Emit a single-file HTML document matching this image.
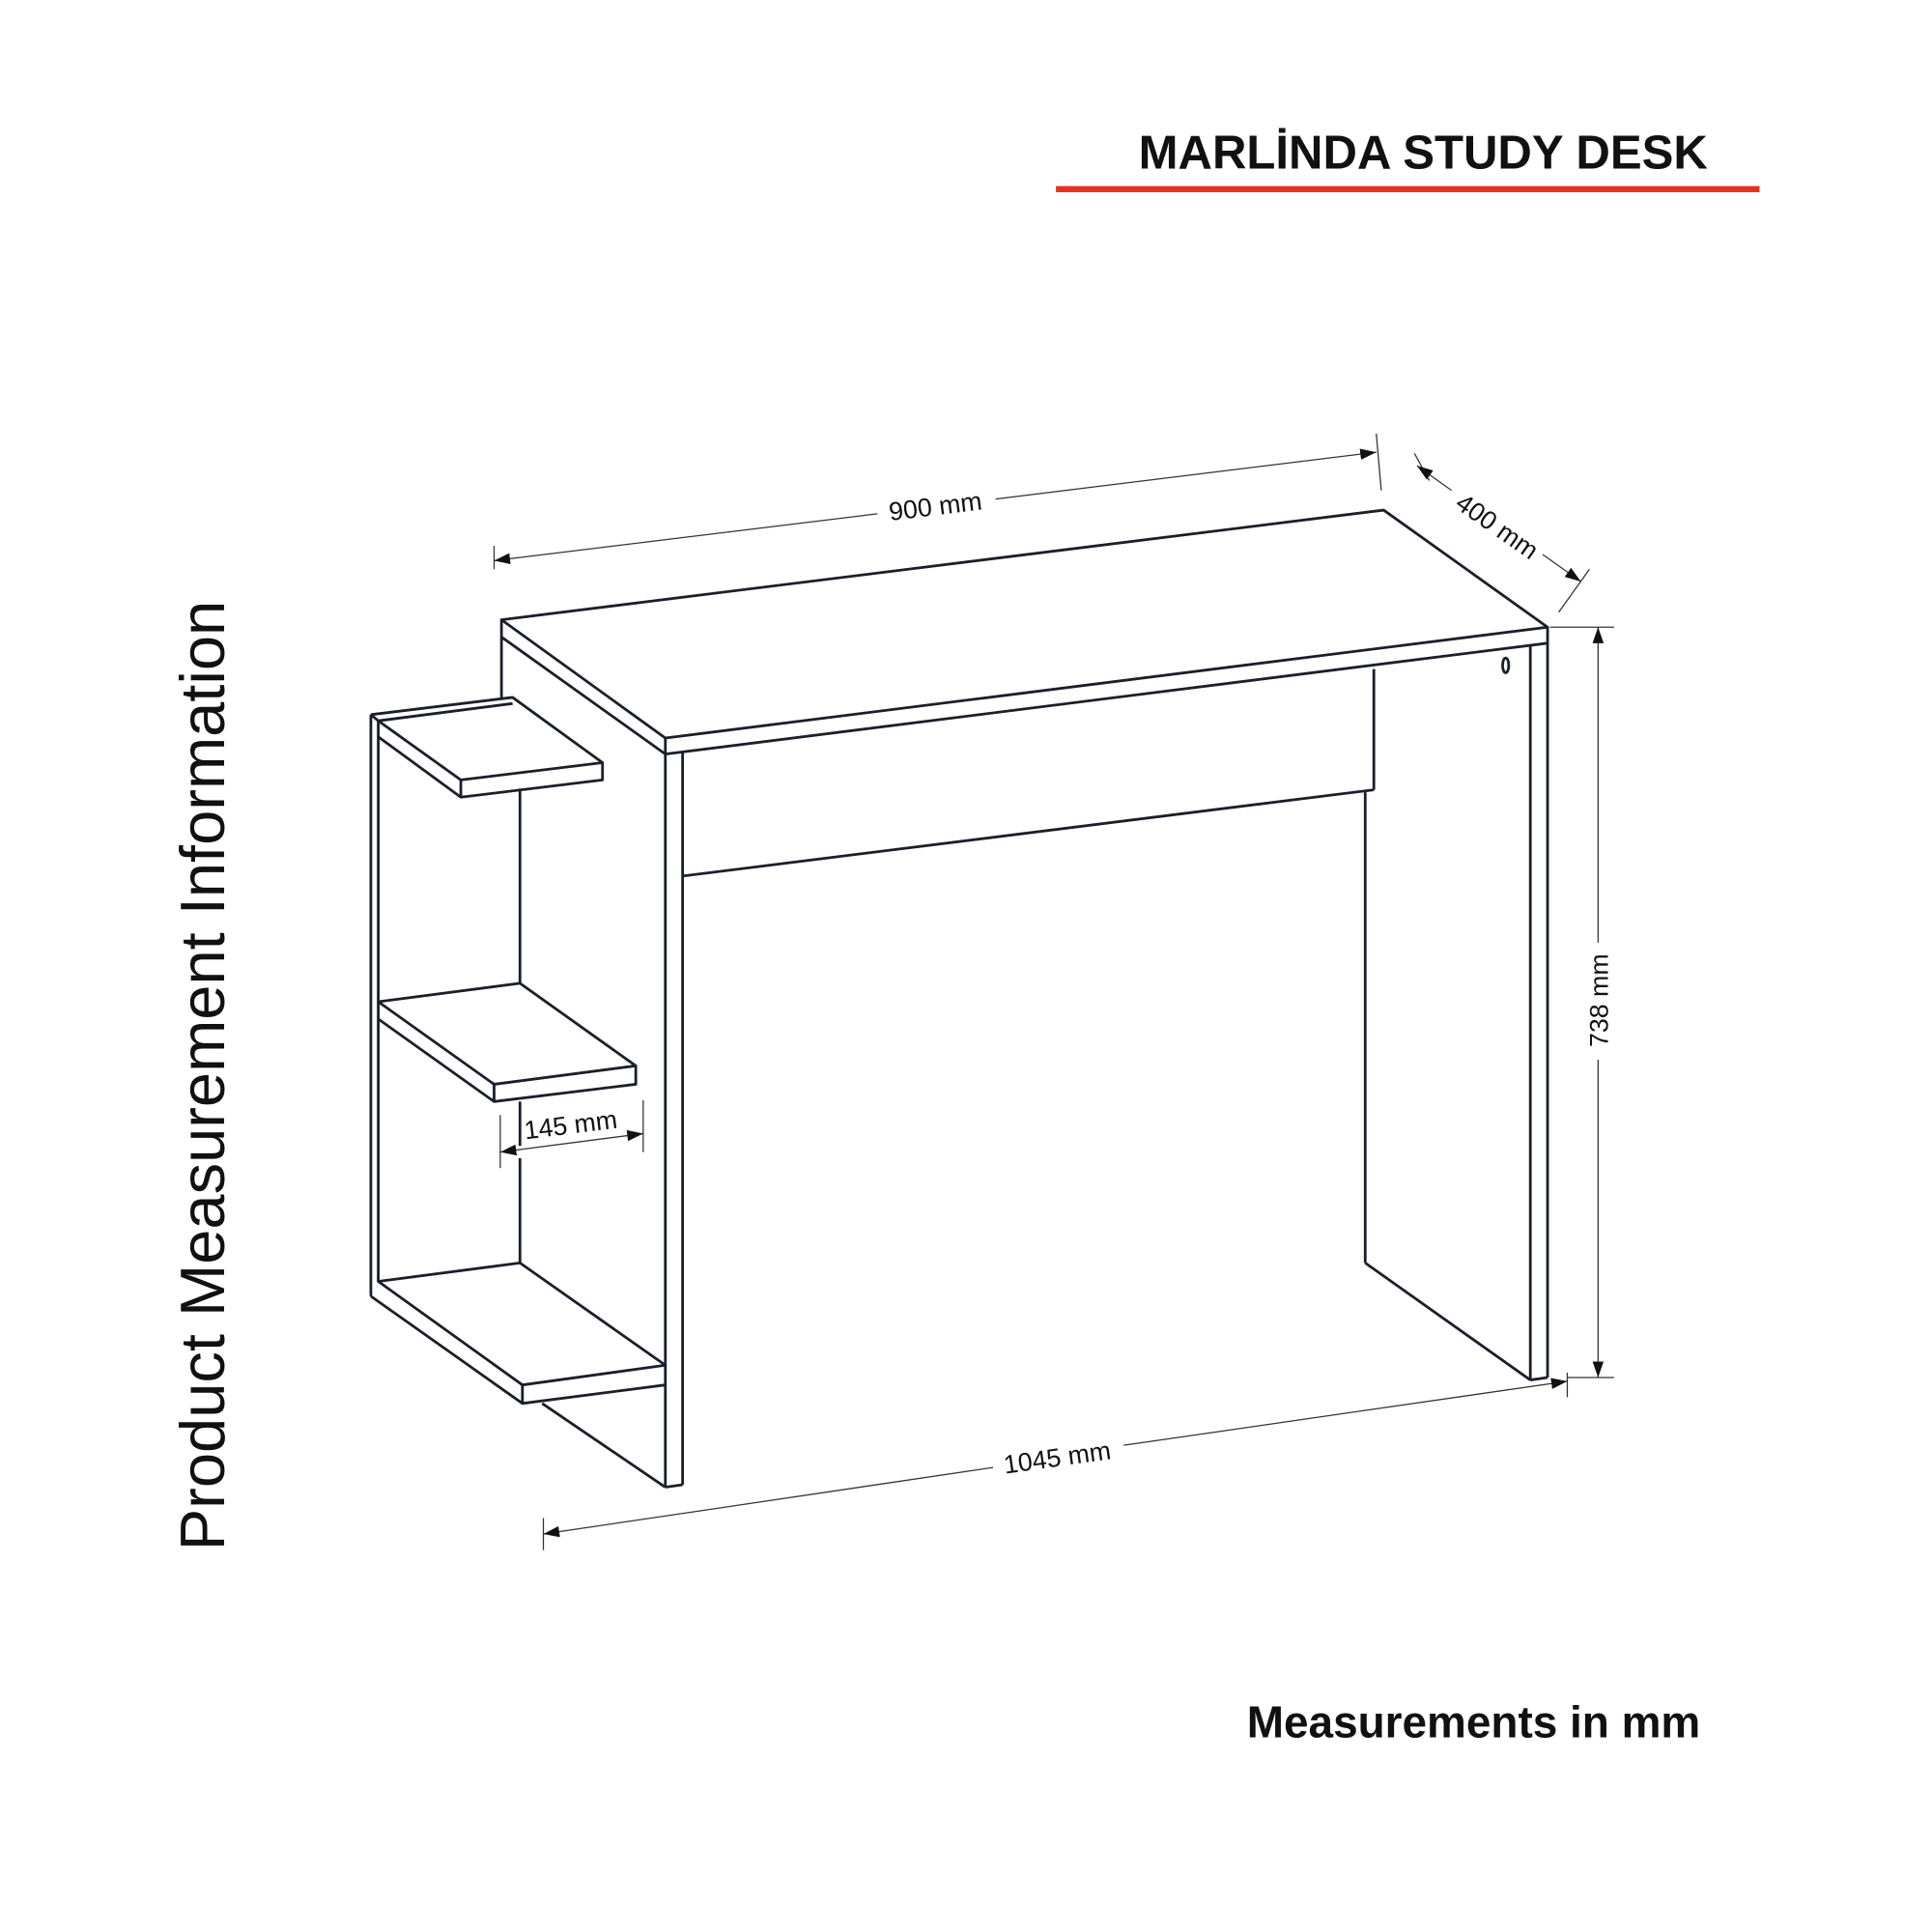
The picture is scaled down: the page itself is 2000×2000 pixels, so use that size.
<!DOCTYPE html>
<html><head><meta charset="utf-8"><style>
html,body{margin:0;padding:0;background:#fff}
svg{display:block}
</style></head><body>
<svg width="2000" height="2000" viewBox="0 0 1568 1568" xmlns="http://www.w3.org/2000/svg">
<defs>
<marker id="ar" viewBox="0 0 10 10" refX="10" refY="5" markerWidth="13" markerHeight="9" markerUnits="userSpaceOnUse" orient="auto-start-reverse" preserveAspectRatio="none">
<path d="M0,0 L10,5 L0,10 z" fill="#111"/>
</marker>
</defs>
<rect width="1568" height="1568" fill="#fff"/>
<text x="1155" y="137" text-anchor="middle" font-family="'Liberation Sans',sans-serif" font-weight="bold" font-size="38.5" fill="#111">MARLİNDA STUDY DESK</text>
<rect x="857" y="151" width="571" height="5" fill="#e8321e"/>
<text transform="translate(182,873) rotate(-90)" text-anchor="middle" font-family="'Liberation Sans',sans-serif" font-size="51" fill="#111">Product Measurement Information</text>
<text x="1380" y="1410" text-anchor="end" font-family="'Liberation Sans',sans-serif" font-weight="bold" font-size="36" fill="#111">Measurements in mm</text>

<g fill="none" stroke="#1a1f2a" stroke-width="2.2" stroke-linejoin="round">
<polygon points="407,503 1123,414 1256,509 540,599"/>
<polyline points="540,599 540,612 1256,522 1256,509"/>
<polyline points="407,503 407,517 540,612"/>
<line x1="407" y1="517" x2="407" y2="567"/>
<line x1="540" y1="612" x2="540" y2="1207"/>
<line x1="554" y1="610" x2="554" y2="1205"/>
<line x1="540" y1="1207" x2="554" y2="1205"/>
<line x1="440" y1="1139" x2="540" y2="1207"/>
<line x1="554" y1="711" x2="1115" y2="641"/>
<line x1="1115" y1="543" x2="1115" y2="641"/>
<line x1="1108" y1="643" x2="1108" y2="1025"/>
<line x1="1242" y1="524" x2="1242" y2="1120"/>
<line x1="1256" y1="522" x2="1256" y2="1118"/>
<line x1="1108" y1="1025" x2="1242" y2="1120"/>
<line x1="1242" y1="1120" x2="1256" y2="1118"/>
<ellipse cx="1222" cy="540" rx="2.5" ry="6"/>
<line x1="301" y1="580" x2="301" y2="1052"/>
<line x1="307" y1="585" x2="307" y2="1040"/>
<polyline points="301,580 416,566 489,619 489,633 374,647 374,633 307,585"/>
<line x1="301" y1="580" x2="307" y2="585"/>
<line x1="307" y1="585" x2="416" y2="571"/>
<line x1="374" y1="633" x2="489" y2="619"/>
<line x1="307" y1="598" x2="374" y2="647"/>
<line x1="422" y1="640" x2="422" y2="798"/>
<polygon points="307,813 422,798 516,865 401,880"/>
<polyline points="401,880 401,894 516,880 516,865"/>
<line x1="307" y1="827" x2="401" y2="894"/>
<line x1="422" y1="894" x2="422" y2="930"/>
<line x1="422" y1="940" x2="422" y2="1025"/>
<polygon points="307,1040 422,1025 540,1108 424,1124"/>
<polyline points="424,1124 424,1139 540,1124"/>
<line x1="301" y1="1052" x2="424" y2="1139"/>
</g>

<g stroke="#333" stroke-width="1" fill="none">
<line x1="401" y1="443" x2="401" y2="462"/>
<line x1="1117" y1="352" x2="1121" y2="398"/>
<line x1="401" y1="455" x2="712" y2="417" marker-start="url(#ar)"/>
<line x1="808" y1="405" x2="1117" y2="367" marker-end="url(#ar)"/>
<line x1="1148" y1="368" x2="1160" y2="390"/>
<line x1="1265" y1="497" x2="1290" y2="462"/>
<line x1="1150" y1="378" x2="1178" y2="398" marker-start="url(#ar)"/>
<line x1="1252" y1="450" x2="1283" y2="472" marker-end="url(#ar)"/>
<line x1="1258" y1="509" x2="1310" y2="509"/>
<line x1="1272" y1="1118" x2="1310" y2="1118"/>
<line x1="1297" y1="509" x2="1297" y2="765" marker-start="url(#ar)"/>
<line x1="1297" y1="860" x2="1297" y2="1118" marker-end="url(#ar)"/>
<line x1="441" y1="1232" x2="441" y2="1258"/>
<line x1="1272" y1="1114" x2="1272" y2="1134"/>
<line x1="441" y1="1245" x2="806" y2="1191" marker-start="url(#ar)"/>
<line x1="912" y1="1173" x2="1272" y2="1121" marker-end="url(#ar)"/>
<line x1="406" y1="905" x2="406" y2="948"/>
<line x1="522" y1="893" x2="522" y2="935"/>
<line x1="406" y1="935" x2="522" y2="920" marker-start="url(#ar)" marker-end="url(#ar)"/>
</g>

<g font-family="'Liberation Sans',sans-serif" font-size="21" fill="#111" text-anchor="middle">
<text transform="translate(760,418) rotate(-7)">900 mm</text>
<text transform="translate(1211,433) rotate(35)">400 mm</text>
<text transform="translate(1305,812) rotate(-90)">738 mm</text>
<text transform="translate(859,1190) rotate(-8)">1045 mm</text>
<text transform="translate(464,920) rotate(-7)">145 mm</text>
</g>
</svg>
</body></html>
